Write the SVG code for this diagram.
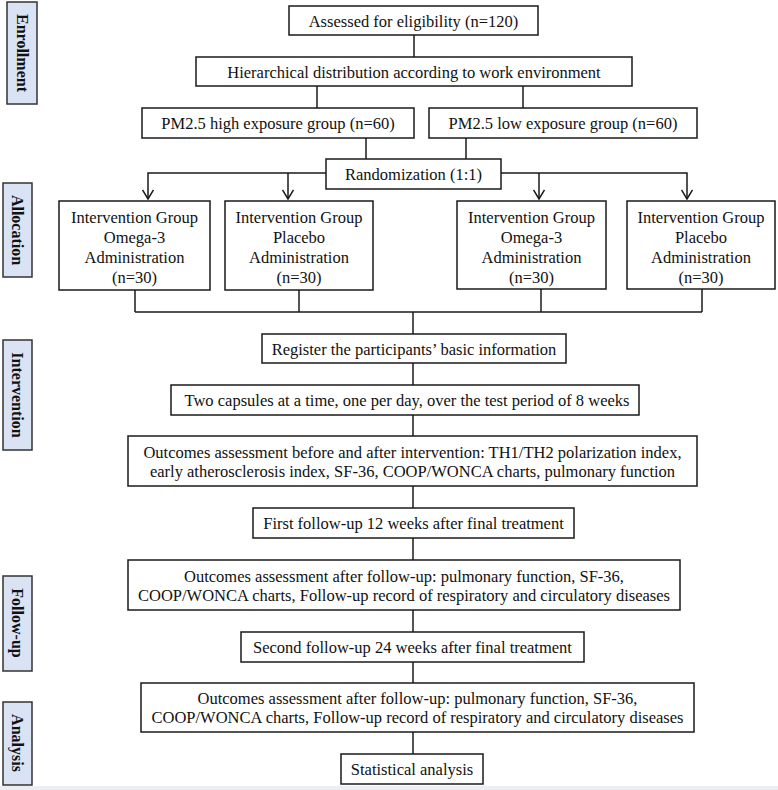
<svg xmlns="http://www.w3.org/2000/svg" width="778" height="790" viewBox="0 0 778 790">
<defs>
<style>
.box{fill:#fff;stroke:#1a1a1a;stroke-width:1.5}
.side{fill:#dae3f3;stroke:#333;stroke-width:1.5}
.t{font-family:"Liberation Serif","Times New Roman",serif;font-size:16.5px;fill:#111;text-anchor:middle;dominant-baseline:central}
.s{font-family:"Liberation Serif","Times New Roman",serif;font-size:16px;font-weight:bold;fill:#111;text-anchor:middle;dominant-baseline:central}
.c{fill:none;stroke:#1a1a1a;stroke-width:1.5}
</style>
<marker id="arr" viewBox="0 0 12 12" refX="11" refY="6" markerWidth="12" markerHeight="12" markerUnits="userSpaceOnUse" orient="auto">
<path d="M2,0.5 L11,6 L2,11.5" fill="none" stroke="#1a1a1a" stroke-width="1.5"/>
</marker>
</defs>
<rect x="0" y="0" width="778" height="790" fill="#fff"/>
<rect x="0" y="786" width="778" height="4" fill="#eceef2"/>

<g id="connectors">
<line class="c" x1="414" y1="35" x2="414" y2="57"/>
<line class="c" x1="317" y1="86" x2="317" y2="108"/>
<line class="c" x1="523" y1="86" x2="523" y2="108"/>
<line class="c" x1="366" y1="138" x2="366" y2="159"/>
<line class="c" x1="466" y1="138" x2="466" y2="159"/>
<polyline class="c" points="326,173 148,173 148,199" marker-end="url(#arr)"/>
<line class="c" x1="288" y1="173" x2="288" y2="199" marker-end="url(#arr)"/>
<polyline class="c" points="501,173 687,173 687,199" marker-end="url(#arr)"/>
<line class="c" x1="539" y1="173" x2="539" y2="199" marker-end="url(#arr)"/>
<line class="c" x1="135" y1="290" x2="135" y2="312"/>
<line class="c" x1="299" y1="290" x2="299" y2="312"/>
<line class="c" x1="541" y1="289" x2="541" y2="312"/>
<line class="c" x1="702" y1="289" x2="702" y2="312"/>
<line class="c" x1="135" y1="312" x2="702" y2="312"/>
<line class="c" x1="413" y1="312" x2="413" y2="334"/>
<line class="c" x1="413" y1="363" x2="413" y2="385"/>
<line class="c" x1="413" y1="415" x2="413" y2="436"/>
<line class="c" x1="413" y1="486" x2="413" y2="508"/>
<line class="c" x1="413" y1="538" x2="413" y2="560"/>
<line class="c" x1="413" y1="610" x2="413" y2="632"/>
<line class="c" x1="413" y1="662" x2="413" y2="683"/>
<line class="c" x1="413" y1="732" x2="413" y2="754"/>
</g>

<g id="side-enrollment"><rect class="side" x="7" y="2" width="30" height="102"/><text class="s" transform="translate(22,53) rotate(90)">Enrollment</text></g>
<g id="side-allocation"><rect class="side" x="3" y="183" width="29" height="94"/><text class="s" transform="translate(17.5,230) rotate(90)">Allocation</text></g>
<g id="side-intervention"><rect class="side" x="3" y="340" width="29" height="110"/><text class="s" transform="translate(17.5,395) rotate(90)">Intervention</text></g>
<g id="side-followup"><rect class="side" x="3" y="576" width="29" height="95"/><text class="s" transform="translate(17.5,623) rotate(90)">Follow-up</text></g>
<g id="side-analysis"><rect class="side" x="3" y="702" width="29" height="83"/><text class="s" transform="translate(17.5,743) rotate(90)">Analysis</text></g>

<g id="assessed"><rect class="box" x="289" y="6" width="249" height="29"/><text class="t" x="413.5" y="21">Assessed for eligibility (n=120)</text></g>
<g id="hierarchical"><rect class="box" x="196" y="57" width="436" height="29"/><text class="t" x="414" y="72">Hierarchical distribution according to work environment</text></g>
<g id="high"><rect class="box" x="142" y="108" width="272" height="30"/><text class="t" x="278" y="123">PM2.5 high exposure group (n=60)</text></g>
<g id="low"><rect class="box" x="429" y="108" width="268" height="30"/><text class="t" x="563" y="123">PM2.5 low exposure group (n=60)</text></g>
<g id="randomization"><rect class="box" x="326" y="159" width="175" height="30"/><text class="t" x="413.5" y="174">Randomization (1:1)</text></g>

<g id="alloc1"><rect class="box" x="59" y="201" width="151" height="89"/>
<text class="t" x="134.5" y="217">Intervention Group</text><text class="t" x="134.5" y="237">Omega-3</text><text class="t" x="134.5" y="257">Administration</text><text class="t" x="134.5" y="277">(n=30)</text></g>
<g id="alloc2"><rect class="box" x="225" y="201" width="148" height="89"/>
<text class="t" x="299" y="217">Intervention Group</text><text class="t" x="299" y="237">Placebo</text><text class="t" x="299" y="257">Administration</text><text class="t" x="299" y="277">(n=30)</text></g>
<g id="alloc3"><rect class="box" x="457" y="201" width="149" height="88"/>
<text class="t" x="531.5" y="217">Intervention Group</text><text class="t" x="531.5" y="237">Omega-3</text><text class="t" x="531.5" y="257">Administration</text><text class="t" x="531.5" y="277">(n=30)</text></g>
<g id="alloc4"><rect class="box" x="627" y="201" width="148" height="88"/>
<text class="t" x="701" y="217">Intervention Group</text><text class="t" x="701" y="237">Placebo</text><text class="t" x="701" y="257">Administration</text><text class="t" x="701" y="277">(n=30)</text></g>

<g id="register"><rect class="box" x="262" y="334" width="304" height="29"/><text class="t" x="414" y="349">Register the participants’ basic information</text></g>
<g id="capsules"><rect class="box" x="171" y="385" width="468" height="30"/><text class="t" x="407" y="400">Two capsules at a time, one per day, over the test period of 8 weeks</text></g>
<g id="outcomes1"><rect class="box" x="128" y="436" width="569" height="50"/>
<text class="t" x="412.5" y="452">Outcomes assessment before and after intervention: TH1/TH2 polarization index,</text>
<text class="t" x="412.5" y="471">early atherosclerosis index, SF-36, COOP/WONCA charts, pulmonary function</text></g>
<g id="first-followup"><rect class="box" x="253" y="508" width="321" height="30"/><text class="t" x="413.5" y="523">First follow-up 12 weeks after final treatment</text></g>
<g id="outcomes2"><rect class="box" x="128" y="560" width="552" height="50"/>
<text class="t" x="404" y="576">Outcomes assessment after follow-up: pulmonary function, SF-36,</text>
<text class="t" x="404" y="595">COOP/WONCA charts, Follow-up record of respiratory and circulatory diseases</text></g>
<g id="second-followup"><rect class="box" x="241" y="632" width="343" height="30"/><text class="t" x="412.5" y="647">Second follow-up 24 weeks after final treatment</text></g>
<g id="outcomes3"><rect class="box" x="141" y="683" width="553" height="49"/>
<text class="t" x="417.5" y="698">Outcomes assessment after follow-up: pulmonary function, SF-36,</text>
<text class="t" x="417.5" y="717">COOP/WONCA charts, Follow-up record of respiratory and circulatory diseases</text></g>
<g id="statistical"><rect class="box" x="341" y="754" width="142" height="30"/><text class="t" x="412" y="769">Statistical analysis</text></g>
</svg>
